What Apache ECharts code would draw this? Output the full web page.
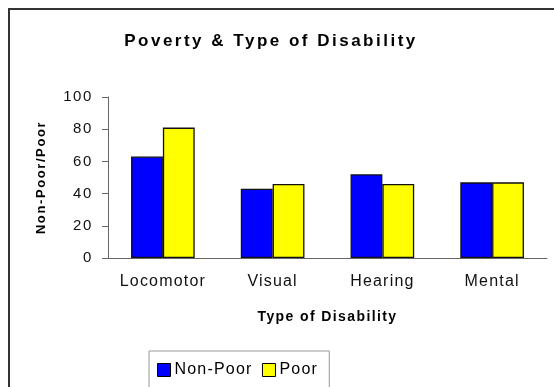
<!DOCTYPE html>
<html>
<head>
<meta charset="utf-8">
<script src="https://cdn.jsdelivr.net/npm/echarts@6/dist/echarts.min.js"></script>
<style>
  html, body { margin: 0; padding: 0; background: #fff; }
  #chart { width: 554px; height: 387px; }
</style>
</head>
<body>
<div id="chart"></div>
<script>
// Survey shares by disability type, split by household poverty status
const categories = ['Locomotor', 'Visual', 'Hearing', 'Mental'];
const nonPoor = [63, 43, 52, 47];
const poor = [81, 46, 46, 47];
const yTicks = { min: 0, max: 100, interval: 20 };

// Wide-tracked lettering: pick a letter spacing from the font in use
const spacingFor = function (font) {
  const bold = /bold|700/.test(font);
  const m = font.match(/(\d+(?:\.\d+)?)px/);
  const size = m ? parseFloat(m[1]) : 12;
  if (bold && size >= 17) return '2.5px';
  if (bold && size >= 14) return '1.4px';
  if (bold) return '1.6px';
  if (size >= 16) return '1.2px';
  return '1.6px';
};
const baseFillText = CanvasRenderingContext2D.prototype.fillText;
CanvasRenderingContext2D.prototype.fillText = function (text, x, y, maxWidth) {
  const prev = this.letterSpacing;
  this.letterSpacing = spacingFor(this.font);
  if (maxWidth === undefined) baseFillText.call(this, text, x, y);
  else baseFillText.call(this, text, x, y, maxWidth);
  this.letterSpacing = prev;
};

const FONT = '"Liberation Sans", Arial, sans-serif';
const chart = echarts.init(document.getElementById('chart'), null, { renderer: 'canvas' });

chart.setOption({
  animation: false,
  backgroundColor: '#ffffff',
  title: {
    text: 'Poverty & Type of Disability',
    left: 266,
    top: 28,
    textAlign: 'center',
    textStyle: { fontFamily: FONT, fontSize: 17, fontWeight: 'bold', color: '#000' }
  },
  graphic: [{
    type: 'rect',
    silent: true,
    shape: { x: 9, y: 9, width: 600, height: 420 },
    style: { fill: 'none', stroke: '#333', lineWidth: 2 }
  }],
  legend: {
    left: 149,
    top: 351,
    padding: [11, 16, 40, 8],
    itemWidth: 13,
    itemHeight: 13,
    itemGap: 19,
    borderColor: '#999',
    borderWidth: 1,
    icon: 'rect',
    itemStyle: { borderColor: '#000', borderWidth: 1 },
    textStyle: { fontFamily: FONT, fontSize: 16, color: '#000', padding: [0, 0, 0, -1] },
    data: ['Non-Poor', 'Poor']
  },
  grid: { left: 108, right: 7, top: 97, bottom: 129, containLabel: false },
  xAxis: {
    type: 'category',
    data: categories,
    name: 'Type of Disability',
    nameLocation: 'middle',
    nameGap: 52,
    nameTextStyle: { fontFamily: FONT, fontSize: 14, fontWeight: 'bold', color: '#000' },
    axisLine: { lineStyle: { color: '#666', width: 1 } },
    axisTick: { length: 5, lineStyle: { color: '#666' } },
    axisLabel: { margin: 16, fontFamily: FONT, fontSize: 16, color: '#111' },
    splitLine: { show: false }
  },
  yAxis: {
    type: 'value',
    min: yTicks.min,
    max: yTicks.max,
    interval: yTicks.interval,
    name: 'Non-Poor/Poor',
    nameLocation: 'middle',
    nameGap: 60,
    nameTextStyle: { fontFamily: FONT, fontSize: 13, fontWeight: 'bold', color: '#000' },
    axisLine: { show: true, lineStyle: { color: '#666', width: 1 } },
    axisTick: { show: true, length: 6, lineStyle: { color: '#666' } },
    axisLabel: { margin: 15, fontFamily: FONT, fontSize: 15, color: '#111' },
    splitLine: { show: false }
  },
  series: [
    {
      name: 'Non-Poor',
      type: 'bar',
      data: nonPoor,
      barWidth: '29%',
      barGap: '0%',
      itemStyle: { color: '#0000ff', borderColor: '#111', borderWidth: 1.3 }
    },
    {
      name: 'Poor',
      type: 'bar',
      data: poor,
      barWidth: '29%',
      barGap: '0%',
      itemStyle: { color: '#ffff00', borderColor: '#111', borderWidth: 1.3 }
    }
  ]
});
</script>
</body>
</html>
